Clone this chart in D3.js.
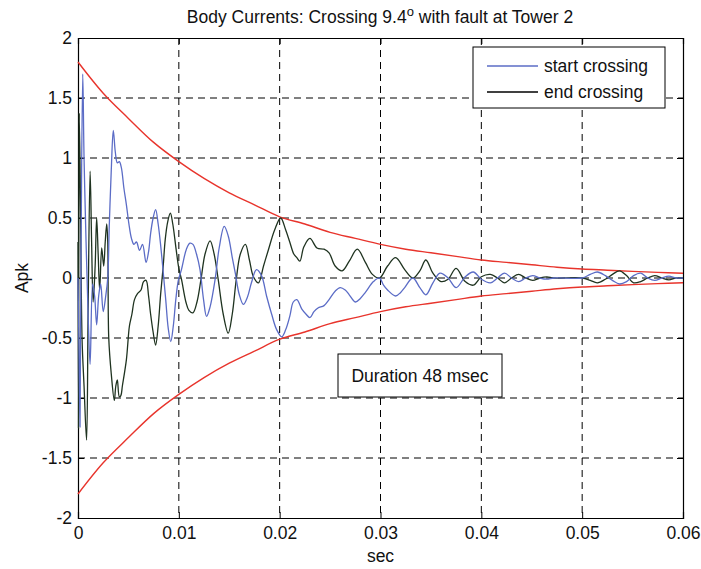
<!DOCTYPE html>
<html>
<head>
<meta charset="utf-8">
<script src="https://cdn.jsdelivr.net/npm/d3@7"></script>
<style>
    body { margin: 0; background: #fff; }
    text { font-family: 'Liberation Sans', Arial, sans-serif; fill: #111; }
</style>
</head>
<body>
<svg id="chart" width="701" height="569"></svg>
<script>
// times in msec, values in Apk
const startT = [0, 0.1, 0.2, 0.3, 0.47, 0.6, 0.8, 1.0, 1.2, 1.45, 1.65, 1.85, 2.05, 2.25, 2.5, 2.75, 2.95, 3.1, 3.3, 3.5, 3.7, 3.9, 4.1, 4.3, 4.55, 4.8, 5.05, 5.3, 5.55, 5.8, 6.1, 6.4, 6.75, 7.0, 7.2, 7.45, 7.7, 7.95, 8.2, 8.45, 8.7, 8.95, 9.2, 9.45, 9.7, 9.95, 10.26, 10.75, 11.1, 11.4, 11.75, 12.1, 12.45, 12.75, 13.1, 13.6, 14.0, 14.5, 14.9, 15.3, 15.6, 16.0, 16.4, 16.8, 17.2, 17.7, 18.2, 18.7, 19.2, 19.7, 20.2, 20.6, 21.0, 21.35, 21.7, 22.2, 22.6, 23.0, 23.4, 23.8, 24.4, 24.9, 25.5, 26.0, 26.5, 26.9, 27.5, 28.0, 28.5, 29.3, 29.9, 30.3, 30.7, 31.5, 32.0, 32.4, 33.2, 33.9, 34.5, 35.2, 35.9, 36.7, 37.5, 38.4, 39.2, 40.0, 40.9, 41.6, 42.3, 43.0, 43.7, 44.4, 45.1, 45.8, 46.5, 47.2, 50.0, 50.8, 51.5, 52.3, 53.0, 53.7, 54.4, 55.1, 55.8, 56.5, 57.2, 57.9, 58.6, 59.3, 60];
const startV = [0, -0.6, -1.24, 0.2, 1.7, 1.0, 0.3, -0.3, -0.72, -0.05, -0.15, -0.39, -0.15, -0.05, -0.28, -0.15, 0.0, 0.43, 0.9, 1.23, 1.05, 0.96, 0.97, 0.92, 0.75, 0.61, 0.45, 0.33, 0.28, 0.3, 0.23, 0.28, 0.13, 0.22, 0.37, 0.5, 0.57, 0.45, 0.27, 0.05, -0.18, -0.42, -0.53, -0.4, -0.18, -0.02, 0.07, 0.24, 0.29, 0.28, 0.2, 0.07, -0.18, -0.32, -0.24, -0.01, 0.25, 0.43, 0.35, 0.17, 0.04, -0.14, -0.22, -0.16, -0.04, 0.07, 0.02, -0.15, -0.3, -0.43, -0.49, -0.43, -0.32, -0.2, -0.18, -0.26, -0.3, -0.33, -0.28, -0.25, -0.23, -0.18, -0.11, -0.08, -0.1, -0.14, -0.2, -0.17, -0.12, -0.03, 0.0, -0.06, -0.1, -0.15, -0.12, -0.08, 0.0, -0.08, -0.14, -0.04, 0.04, 0.0, -0.08, 0.01, 0.05, -0.01, -0.04, 0.0, 0.04, 0.0, -0.03, 0.0, 0.02, 0.0, -0.01, 0.0, 0.0, 0.03, 0.05, 0.02, -0.02, -0.05, -0.03, 0.02, 0.04, 0.0, -0.02, 0.0, 0.015, 0.0, 0.0];

const endT = [0, 0.05, 0.12, 0.25, 0.4, 0.6, 0.85, 1.0, 1.2, 1.35, 1.5, 1.7, 1.85, 2.0, 2.15, 2.35, 2.55, 2.7, 2.85, 2.95, 3.05, 3.3, 3.6, 3.75, 3.9, 4.1, 4.25, 4.4, 4.8, 5.1, 5.35, 5.6, 5.9, 6.25, 6.5, 6.75, 7.0, 7.2, 7.45, 7.7, 7.95, 8.2, 8.45, 8.65, 8.9, 9.16, 9.4, 9.7, 10.0, 10.26, 10.7, 11.0, 11.4, 11.8, 12.2, 12.6, 13.1, 13.5, 13.9, 14.4, 14.9, 15.3, 15.7, 16.1, 16.6, 17.0, 17.4, 17.9, 18.4, 18.9, 19.5, 20.1, 20.6, 21.0, 21.4, 21.7, 22.0, 22.4, 23.0, 23.7, 24.4, 24.9, 25.5, 26.2, 26.9, 27.7, 28.5, 29.2, 29.9, 30.7, 31.5, 32.4, 33.2, 33.9, 34.5, 35.2, 36.0, 36.7, 37.5, 38.4, 39.2, 40.0, 40.9, 41.6, 42.3, 43.0, 43.7, 44.4, 45.1, 45.8, 46.5, 47.2, 50.0, 50.8, 51.5, 52.3, 53.0, 53.7, 54.4, 55.1, 55.8, 56.5, 57.2, 57.9, 58.6, 59.3, 60];
const endV = [0.3, -1.25, 1.37, 0.6, -0.5, -0.9, -1.35, -0.3, 0.89, 0.3, -0.2, 0.1, 0.5, 0.2, -0.1, 0.25, 0.1, 0.3, 0.45, 0.3, -0.5, -0.8, -1.02, -0.9, -0.85, -0.99, -0.98, -0.9, -0.68, -0.4, -0.3, -0.18, -0.13, -0.1, -0.03, -0.02, -0.15, -0.3, -0.45, -0.56, -0.4, -0.13, 0.1, 0.32, 0.47, 0.54, 0.45, 0.26, 0.08, -0.01, -0.2, -0.27, -0.29, -0.2, -0.01, 0.2, 0.31, 0.2, -0.01, -0.3, -0.46, -0.3, -0.01, 0.2, 0.28, 0.15, 0.01, -0.04, 0.1, 0.24, 0.4, 0.5, 0.4, 0.3, 0.2, 0.17, 0.14, 0.26, 0.33, 0.25, 0.24, 0.21, 0.1, 0.06, 0.14, 0.24, 0.13, 0.03, 0.0, 0.1, 0.17, 0.07, 0.0, 0.06, 0.15, 0.04, -0.03, -0.01, 0.08, -0.03, -0.06, 0.01, 0.03, 0.0, -0.04, 0.0, 0.03, 0.0, -0.02, 0.0, 0.01, 0.0, 0.0, -0.02, -0.04, -0.01, 0.03, 0.06, 0.02, -0.04, -0.03, 0.0, 0.02, 0.0, -0.015, 0.0, 0.0];

const envT = [0, 2.5, 5, 7.5, 10, 12.5, 15, 17.5, 20, 22.5, 25, 27.5, 30, 32.5, 35, 37.5, 40, 42.5, 45, 47.5, 50, 52.5, 55, 57.5, 60];
const envUpper = [1.8, 1.54, 1.33, 1.13, 0.97, 0.83, 0.71, 0.61, 0.51, 0.45, 0.38, 0.33, 0.28, 0.24, 0.21, 0.18, 0.15, 0.13, 0.11, 0.09, 0.075, 0.065, 0.055, 0.047, 0.04];
const envLower = [-1.8, -1.54, -1.33, -1.13, -0.97, -0.83, -0.71, -0.61, -0.51, -0.45, -0.38, -0.33, -0.28, -0.24, -0.21, -0.18, -0.15, -0.13, -0.11, -0.09, -0.075, -0.065, -0.055, -0.047, -0.04];

const xTicks = [0, 10, 20, 30, 40, 50, 60];
const yTicks = [-2, -1.5, -1, -0.5, 0, 0.5, 1, 1.5, 2];
const seriesNames = ['start crossing', 'end crossing'];

const BLUE = '#5b6cc6';
const DARK = '#1f3320';
const RED = '#e8342c';
const TICK = 6;
const FS = 17.5;

const svg = d3.select('#chart');
const margin = { top: 38, right: 18, bottom: 51, left: 78 };
const W = 701, H = 569;
const x = d3.scaleLinear().domain([0, 60]).range([margin.left, W - margin.right]);
const y = d3.scaleLinear().domain([-2, 2]).range([H - margin.bottom, margin.top]);

// grid
const grid = svg.append('g').attr('stroke', '#000').attr('stroke-width', 1).attr('stroke-dasharray', '7,5');
grid.selectAll('.gx').data(xTicks.slice(1, -1)).join('line')
    .attr('x1', (d) => x(d)).attr('x2', (d) => x(d))
    .attr('y1', y(2)).attr('y2', y(-2));
grid.selectAll('.gy').data(yTicks.slice(1, -1)).join('line')
    .attr('y1', (d) => y(d)).attr('y2', (d) => y(d))
    .attr('x1', x(0)).attr('x2', x(60));

// axes (MATLAB style: inward ticks on all four sides)
svg.append('g').attr('transform', `translate(0,${y(-2)})`)
    .call(d3.axisBottom(x).tickValues(xTicks).tickSize(-TICK).tickPadding(9).tickFormat((d) => d / 1000));
svg.append('g').attr('transform', `translate(0,${y(2)})`)
    .call(d3.axisTop(x).tickValues(xTicks).tickSize(-TICK).tickFormat(''));
svg.append('g').attr('transform', `translate(${x(0)},0)`)
    .call(d3.axisLeft(y).tickValues(yTicks).tickSize(-TICK).tickPadding(6).tickFormat((d) => d));
svg.append('g').attr('transform', `translate(${x(60)},0)`)
    .call(d3.axisRight(y).tickValues(yTicks).tickSize(-TICK).tickFormat(''));
svg.selectAll('.domain').attr('stroke', '#000').attr('stroke-width', 1.2);
svg.selectAll('.tick line').attr('stroke', '#000');
svg.selectAll('.tick text').attr('font-size', FS).attr('fill', '#111')
    .attr('font-family', "'Liberation Sans', Arial, sans-serif");

// curves
const line = (ts) => d3.line()
    .x((d, i) => x(ts[i]))
    .y((d) => y(d))
    .curve(d3.curveCatmullRom.alpha(0.5));

svg.append('path').attr('d', line(envT)(envUpper)).attr('fill', 'none').attr('stroke', RED).attr('stroke-width', 1.4);
svg.append('path').attr('d', line(envT)(envLower)).attr('fill', 'none').attr('stroke', RED).attr('stroke-width', 1.4);
svg.append('path').attr('d', line(endT)(endV)).attr('fill', 'none').attr('stroke', DARK).attr('stroke-width', 1.3);
svg.append('path').attr('d', line(startT)(startV)).attr('fill', 'none').attr('stroke', BLUE).attr('stroke-width', 1.3);

// title and labels
const title = svg.append('text').attr('x', 380).attr('y', 23).attr('text-anchor', 'middle').attr('font-size', FS);
title.append('tspan').text('Body Currents: Crossing 9.4');
title.append('tspan').attr('dy', -7).attr('font-size', 13).text('o');
title.append('tspan').attr('dy', 7).text(' with fault at Tower 2');

svg.append('text').attr('x', x(30)).attr('y', 562).attr('text-anchor', 'middle').attr('font-size', FS).text('sec');
svg.append('text').attr('transform', `translate(28,${y(0)}) rotate(-90)`)
    .attr('text-anchor', 'middle').attr('font-size', FS).text('Apk');

// legend
const legend = svg.append('g');
legend.append('rect').attr('x', 473).attr('y', 47).attr('width', 192).attr('height', 61)
    .attr('fill', '#fff').attr('stroke', '#000').attr('stroke-width', 1);
seriesNames.forEach((name, i) => {
    const ly = 66 + i * 26;
    legend.append('line').attr('x1', 487).attr('x2', 538).attr('y1', ly).attr('y2', ly)
        .attr('stroke', i === 0 ? BLUE : '#000').attr('stroke-width', 1.3);
    legend.append('text').attr('x', 544).attr('y', ly + 6).attr('font-size', FS).text(name);
});

// annotation
svg.append('rect').attr('x', 338).attr('y', 354).attr('width', 164).attr('height', 43)
    .attr('fill', '#fff').attr('stroke', '#000').attr('stroke-width', 1);
svg.append('text').attr('x', 420).attr('y', 382).attr('text-anchor', 'middle').attr('font-size', FS).text('Duration 48 msec');
</script>
</body>
</html>
